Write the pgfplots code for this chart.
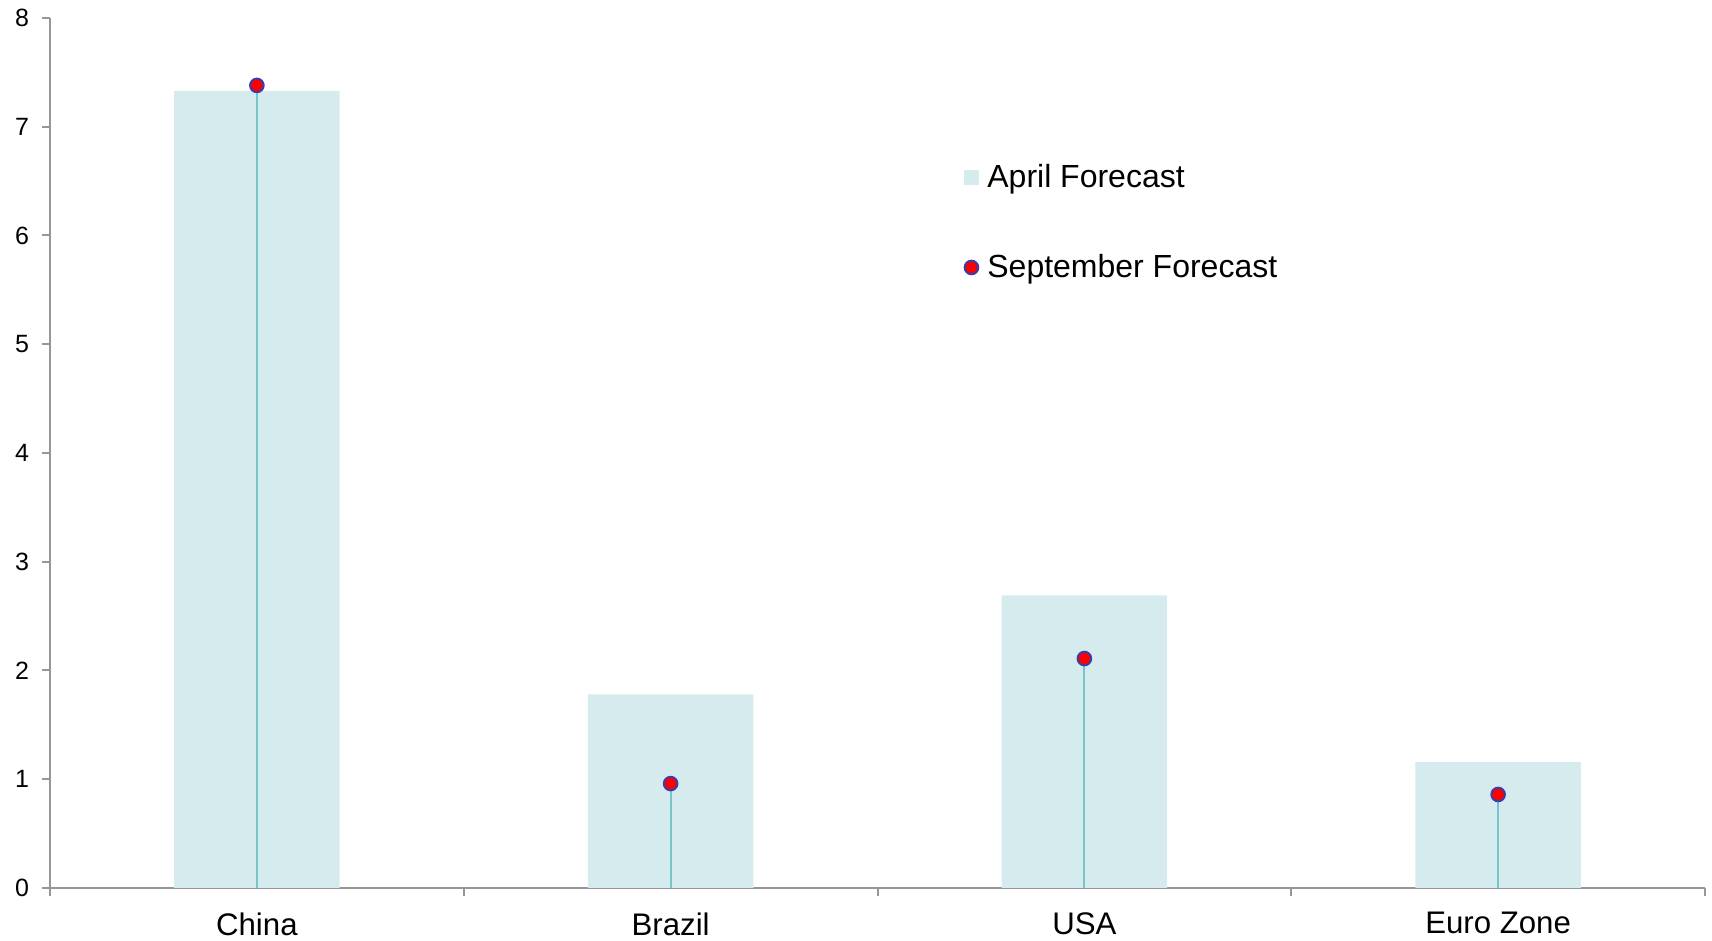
\documentclass[border=0pt]{standalone}
\usepackage{pgfplots}
\pgfplotsset{compat=1.18}
\usepackage{fontspec}
\setmainfont{Liberation Sans}
\definecolor{barfill}{RGB}{214,235,238}
\definecolor{stemc}{RGB}{120,196,200}
\definecolor{mkborder}{RGB}{60,60,170}
\definecolor{axgray}{RGB}{150,150,150}
\begin{document}
\begin{tikzpicture}
\begin{axis}[
  scale only axis, width=827.5pt, height=435pt,
  xmin=-0.5, xmax=3.5, ymin=0, ymax=8,
  axis x line=bottom, axis y line=left,
  axis line style={-, draw=axgray, line width=1pt},
  ytick={0,1,2,3,4,5,6,7,8},
  xtick={-0.5,0.5,1.5,2.5,3.5},
  xticklabels={},
  extra x ticks={0,1,2,3},
  extra x tick labels={China,Brazil,USA,Euro Zone},
  extra x tick style={major tick length=0pt, xticklabel style={font=\fontsize{15.6}{18}\selectfont, yshift=-12pt, inner sep=0pt}},
  tick style={draw=axgray, line width=1pt},
  tick align=outside,
  major tick length=4pt,
  /pgf/number format/assume math mode=true,
  yticklabel style={font=\fontsize{12.5}{14}\selectfont, xshift=-3pt},
  legend style={at={(0.552,0.837)}, anchor=north west, draw=none, fill=none,
    font=\fontsize{16}{19}\selectfont, row sep=28pt, inner sep=0pt,
    nodes={inner sep=2pt}},
  legend cell align=left,
]
\coordinate (ll) at (rel axis cs:0,0);
\coordinate (ur) at (rel axis cs:1,1);
\addplot[ybar, bar width=0.4, bar shift=0pt, fill=barfill, draw=none,
  legend image code/.code={\fill[barfill] (0pt,-3.75pt) rectangle (7.5pt,3.75pt); \path (9.5pt,0pt);}]
  coordinates {(0,7.33) (1,1.78) (2,2.69) (3,1.16)};
\addlegendentry{April Forecast}
\addplot[ycomb, draw=stemc, line width=1pt, mark=*, mark size=3.4pt,
  mark options={fill=red, draw=mkborder, line width=1pt}, forget plot]
  coordinates {(0,7.38) (1,0.96) (2,2.11) (3,0.86)};
\addlegendimage{only marks, mark=*, mark size=3.4pt,
  mark options={fill=red, draw=mkborder, line width=1pt},
  legend image code/.code={\draw[only marks, mark=*, mark size=3.4pt, mark options={fill=red, draw=mkborder, line width=1pt}] plot coordinates {(3.75pt,0pt)}; \path (9.5pt,0pt);}}
\addlegendentry{September Forecast}
\end{axis}
\pgfresetboundingbox
\path ([shift={(-25pt,-26.5pt)}]ll) rectangle ([shift={(3.5pt,9pt)}]ur);
\end{tikzpicture}
\end{document}
